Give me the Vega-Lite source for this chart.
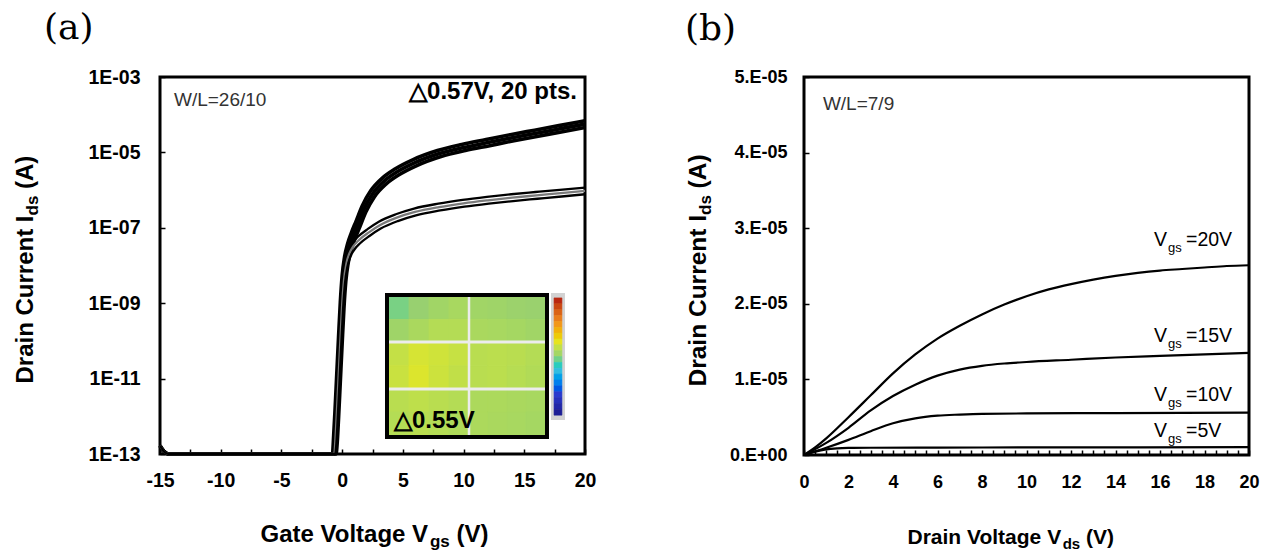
{
  "$schema": "https://vega.github.io/schema/vega-lite/v6.json",
  "background": "white",
  "padding": {"left": 11, "top": 8, "right": 5, "bottom": 2},
  "spacing": 85,
  "config": {
    "view": {"stroke": "black", "strokeWidth": 3},
    "axis": {"grid": false, "domain": false, "labelFont": "Liberation Sans", "labelFontWeight": "bold", "labelColor": "black", "tickColor": "black", "tickWidth": 1.5, "tickSize": -5, "titleFont": "Liberation Sans", "titleFontWeight": "bold", "titleColor": "black"}
  },
  "datasets": {
    "tr": [
      {"c":"u1","b":"u","v":-15,"i":1.66e-13},{"c":"u1","b":"u","v":-14.7,"i":1.2e-13},{"c":"u1","b":"u","v":-14.3,"i":1e-13},{"c":"u1","b":"u","v":-0.8,"i":1e-13},{"c":"u1","b":"u","v":-0.7,"i":3.02e-13},{"c":"u1","b":"u","v":-0.6,"i":1.2e-12},{"c":"u1","b":"u","v":-0.45,"i":1.2e-11},{"c":"u1","b":"u","v":-0.3,"i":1.2e-10},{"c":"u1","b":"u","v":-0.15,"i":1.07e-9},{"c":"u1","b":"u","v":0,"i":5.37e-9},{"c":"u1","b":"u","v":0.2,"i":1.7e-8},{"c":"u1","b":"u","v":0.45,"i":3.8e-8},{"c":"u1","b":"u","v":0.75,"i":7.24e-8},{"c":"u1","b":"u","v":1.15,"i":1.51e-7},{"c":"u1","b":"u","v":1.65,"i":3.8e-7},{"c":"u1","b":"u","v":2.35,"i":9.55e-7},{"c":"u1","b":"u","v":3.35,"i":2.14e-6},{"c":"u1","b":"u","v":4.35,"i":3.63e-6},{"c":"u1","b":"u","v":5.85,"i":6.46e-6},{"c":"u1","b":"u","v":7.85,"i":1.12e-5},{"c":"u1","b":"u","v":9.85,"i":1.62e-5},{"c":"u1","b":"u","v":11.85,"i":2.19e-5},{"c":"u1","b":"u","v":13.85,"i":2.95e-5},{"c":"u1","b":"u","v":15.85,"i":3.89e-5},{"c":"u1","b":"u","v":17.85,"i":5.13e-5},{"c":"u1","b":"u","v":20,"i":6.92e-5},
      {"c":"u2","b":"u","v":-15,"i":1.66e-13},{"c":"u2","b":"u","v":-14.7,"i":1.2e-13},{"c":"u2","b":"u","v":-14.3,"i":1e-13},{"c":"u2","b":"u","v":-0.65,"i":1e-13},{"c":"u2","b":"u","v":-0.55,"i":2.51e-13},{"c":"u2","b":"u","v":-0.45,"i":1e-12},{"c":"u2","b":"u","v":-0.3,"i":1e-11},{"c":"u2","b":"u","v":-0.15,"i":1e-10},{"c":"u2","b":"u","v":0,"i":8.91e-10},{"c":"u2","b":"u","v":0.15,"i":4.47e-9},{"c":"u2","b":"u","v":0.35,"i":1.41e-8},{"c":"u2","b":"u","v":0.6,"i":3.16e-8},{"c":"u2","b":"u","v":0.9,"i":6.03e-8},{"c":"u2","b":"u","v":1.3,"i":1.26e-7},{"c":"u2","b":"u","v":1.8,"i":3.16e-7},{"c":"u2","b":"u","v":2.5,"i":7.94e-7},{"c":"u2","b":"u","v":3.5,"i":1.78e-6},{"c":"u2","b":"u","v":4.5,"i":3.02e-6},{"c":"u2","b":"u","v":6,"i":5.37e-6},{"c":"u2","b":"u","v":8,"i":9.33e-6},{"c":"u2","b":"u","v":10,"i":1.35e-5},{"c":"u2","b":"u","v":12,"i":1.82e-5},{"c":"u2","b":"u","v":14,"i":2.45e-5},{"c":"u2","b":"u","v":16,"i":3.24e-5},{"c":"u2","b":"u","v":18,"i":4.27e-5},{"c":"u2","b":"u","v":20,"i":5.62e-5},
      {"c":"u3","b":"u","v":-15,"i":1.66e-13},{"c":"u3","b":"u","v":-14.7,"i":1.2e-13},{"c":"u3","b":"u","v":-14.3,"i":1e-13},{"c":"u3","b":"u","v":-0.5,"i":1e-13},{"c":"u3","b":"u","v":-0.4,"i":2.09e-13},{"c":"u3","b":"u","v":-0.3,"i":8.32e-13},{"c":"u3","b":"u","v":-0.15,"i":8.32e-12},{"c":"u3","b":"u","v":0,"i":8.32e-11},{"c":"u3","b":"u","v":0.15,"i":7.41e-10},{"c":"u3","b":"u","v":0.3,"i":3.72e-9},{"c":"u3","b":"u","v":0.5,"i":1.17e-8},{"c":"u3","b":"u","v":0.75,"i":2.63e-8},{"c":"u3","b":"u","v":1.05,"i":5.01e-8},{"c":"u3","b":"u","v":1.45,"i":1.05e-7},{"c":"u3","b":"u","v":1.95,"i":2.63e-7},{"c":"u3","b":"u","v":2.65,"i":6.61e-7},{"c":"u3","b":"u","v":3.65,"i":1.48e-6},{"c":"u3","b":"u","v":4.65,"i":2.51e-6},{"c":"u3","b":"u","v":6.15,"i":4.47e-6},{"c":"u3","b":"u","v":8.15,"i":7.76e-6},{"c":"u3","b":"u","v":10.15,"i":1.12e-5},{"c":"u3","b":"u","v":12.15,"i":1.51e-5},{"c":"u3","b":"u","v":14.15,"i":2.04e-5},{"c":"u3","b":"u","v":16.15,"i":2.69e-5},{"c":"u3","b":"u","v":18.15,"i":3.55e-5},{"c":"u3","b":"u","v":20,"i":4.57e-5},
      {"c":"l1","b":"l","v":-15,"i":1.66e-13},{"c":"l1","b":"l","v":-14.7,"i":1.2e-13},{"c":"l1","b":"l","v":-14.3,"i":1e-13},{"c":"l1","b":"l","v":-0.73,"i":1e-13},{"c":"l1","b":"l","v":-0.63,"i":3.09e-13},{"c":"l1","b":"l","v":-0.53,"i":1.23e-12},{"c":"l1","b":"l","v":-0.38,"i":1.23e-11},{"c":"l1","b":"l","v":-0.23,"i":1.23e-10},{"c":"l1","b":"l","v":-0.08,"i":1.1e-9},{"c":"l1","b":"l","v":0.07,"i":4.9e-9},{"c":"l1","b":"l","v":0.27,"i":1.38e-8},{"c":"l1","b":"l","v":0.52,"i":2.57e-8},{"c":"l1","b":"l","v":0.82,"i":3.89e-8},{"c":"l1","b":"l","v":1.32,"i":5.89e-8},{"c":"l1","b":"l","v":2.12,"i":9.33e-8},{"c":"l1","b":"l","v":3.02,"i":1.45e-7},{"c":"l1","b":"l","v":4.42,"i":2.29e-7},{"c":"l1","b":"l","v":5.92,"i":3.24e-7},{"c":"l1","b":"l","v":7.92,"i":4.37e-7},{"c":"l1","b":"l","v":9.92,"i":5.5e-7},{"c":"l1","b":"l","v":11.92,"i":6.61e-7},{"c":"l1","b":"l","v":13.92,"i":7.76e-7},{"c":"l1","b":"l","v":15.92,"i":8.91e-7},{"c":"l1","b":"l","v":17.92,"i":1.02e-6},{"c":"l1","b":"l","v":20,"i":1.17e-6},
      {"c":"l2","b":"l","v":-15,"i":1.66e-13},{"c":"l2","b":"l","v":-14.7,"i":1.2e-13},{"c":"l2","b":"l","v":-14.3,"i":1e-13},{"c":"l2","b":"l","v":-0.65,"i":1e-13},{"c":"l2","b":"l","v":-0.55,"i":2.51e-13},{"c":"l2","b":"l","v":-0.45,"i":1e-12},{"c":"l2","b":"l","v":-0.3,"i":1e-11},{"c":"l2","b":"l","v":-0.15,"i":1e-10},{"c":"l2","b":"l","v":0,"i":8.91e-10},{"c":"l2","b":"l","v":0.15,"i":3.98e-9},{"c":"l2","b":"l","v":0.35,"i":1.12e-8},{"c":"l2","b":"l","v":0.6,"i":2.09e-8},{"c":"l2","b":"l","v":0.9,"i":3.16e-8},{"c":"l2","b":"l","v":1.4,"i":4.79e-8},{"c":"l2","b":"l","v":2.2,"i":7.59e-8},{"c":"l2","b":"l","v":3.1,"i":1.17e-7},{"c":"l2","b":"l","v":4.5,"i":1.86e-7},{"c":"l2","b":"l","v":6,"i":2.63e-7},{"c":"l2","b":"l","v":8,"i":3.55e-7},{"c":"l2","b":"l","v":10,"i":4.47e-7},{"c":"l2","b":"l","v":12,"i":5.37e-7},{"c":"l2","b":"l","v":14,"i":6.31e-7},{"c":"l2","b":"l","v":16,"i":7.24e-7},{"c":"l2","b":"l","v":18,"i":8.32e-7},{"c":"l2","b":"l","v":20,"i":9.55e-7},
      {"c":"l3","b":"l","v":-15,"i":1.66e-13},{"c":"l3","b":"l","v":-14.7,"i":1.2e-13},{"c":"l3","b":"l","v":-14.3,"i":1e-13},{"c":"l3","b":"l","v":-0.57,"i":1e-13},{"c":"l3","b":"l","v":-0.47,"i":2.04e-13},{"c":"l3","b":"l","v":-0.37,"i":8.13e-13},{"c":"l3","b":"l","v":-0.22,"i":8.13e-12},{"c":"l3","b":"l","v":-0.07,"i":8.13e-11},{"c":"l3","b":"l","v":0.08,"i":7.24e-10},{"c":"l3","b":"l","v":0.23,"i":3.24e-9},{"c":"l3","b":"l","v":0.43,"i":9.12e-9},{"c":"l3","b":"l","v":0.68,"i":1.7e-8},{"c":"l3","b":"l","v":0.98,"i":2.57e-8},{"c":"l3","b":"l","v":1.48,"i":3.89e-8},{"c":"l3","b":"l","v":2.28,"i":6.17e-8},{"c":"l3","b":"l","v":3.18,"i":9.55e-8},{"c":"l3","b":"l","v":4.58,"i":1.51e-7},{"c":"l3","b":"l","v":6.08,"i":2.14e-7},{"c":"l3","b":"l","v":8.08,"i":2.88e-7},{"c":"l3","b":"l","v":10.08,"i":3.63e-7},{"c":"l3","b":"l","v":12.08,"i":4.37e-7},{"c":"l3","b":"l","v":14.08,"i":5.13e-7},{"c":"l3","b":"l","v":16.08,"i":5.89e-7},{"c":"l3","b":"l","v":18.08,"i":6.76e-7},{"c":"l3","b":"l","v":20,"i":7.76e-7}
    ],
    "out": [
      {"g":"20","x":0,"y":0},{"g":"20","x":0.5,"y":1e-6},{"g":"20","x":1,"y":2.2e-6},{"g":"20","x":2,"y":5e-6},{"g":"20","x":3,"y":7.9e-6},{"g":"20","x":4,"y":1.08e-5},{"g":"20","x":5,"y":1.33e-5},{"g":"20","x":6,"y":1.54e-5},{"g":"20","x":7,"y":1.71e-5},{"g":"20","x":8,"y":1.86e-5},{"g":"20","x":9,"y":1.99e-5},{"g":"20","x":10,"y":2.1e-5},{"g":"20","x":11,"y":2.19e-5},{"g":"20","x":12,"y":2.26e-5},{"g":"20","x":13,"y":2.32e-5},{"g":"20","x":14,"y":2.37e-5},{"g":"20","x":15,"y":2.41e-5},{"g":"20","x":16,"y":2.44e-5},{"g":"20","x":17,"y":2.46e-5},{"g":"20","x":18,"y":2.48e-5},{"g":"20","x":19,"y":2.5e-5},{"g":"20","x":20,"y":2.51e-5},
      {"g":"15","x":0,"y":0},{"g":"15","x":1,"y":1.6e-6},{"g":"15","x":2,"y":3.6e-6},{"g":"15","x":3,"y":5.9e-6},{"g":"15","x":4,"y":7.8e-6},{"g":"15","x":5,"y":9.3e-6},{"g":"15","x":6,"y":1.05e-5},{"g":"15","x":7,"y":1.13e-5},{"g":"15","x":8,"y":1.18e-5},{"g":"15","x":9,"y":1.21e-5},{"g":"15","x":10,"y":1.23e-5},{"g":"15","x":12,"y":1.26e-5},{"g":"15","x":14,"y":1.29e-5},{"g":"15","x":16,"y":1.31e-5},{"g":"15","x":18,"y":1.33e-5},{"g":"15","x":20,"y":1.35e-5},
      {"g":"10","x":0,"y":0},{"g":"10","x":1,"y":9.5e-7},{"g":"10","x":2,"y":2e-6},{"g":"10","x":3,"y":3.15e-6},{"g":"10","x":4,"y":4.2e-6},{"g":"10","x":5,"y":4.85e-6},{"g":"10","x":6,"y":5.2e-6},{"g":"10","x":7,"y":5.35e-6},{"g":"10","x":8,"y":5.45e-6},{"g":"10","x":10,"y":5.5e-6},{"g":"10","x":14,"y":5.55e-6},{"g":"10","x":20,"y":5.6e-6},
      {"g":"5","x":0,"y":0},{"g":"5","x":0.5,"y":4.5e-7},{"g":"5","x":1,"y":7.5e-7},{"g":"5","x":1.5,"y":8.8e-7},{"g":"5","x":2,"y":9.3e-7},{"g":"5","x":3,"y":9.6e-7},{"g":"5","x":6,"y":9.8e-7},{"g":"5","x":10,"y":1e-6},{"g":"5","x":20,"y":1.03e-6}
    ],
    "lab": [
      {"g":"20","r":"=20V","x":15.73,"y":2.77e-5},
      {"g":"15","r":"=15V","x":15.73,"y":1.5e-5},
      {"g":"10","r":"=10V","x":15.73,"y":7.1e-6},
      {"g":"5","r":"=5V","x":15.73,"y":2.4e-6}
    ]
  },
  "hconcat": [
    {
      "width": 425,
      "height": 377,
      "title": {"text": "(a)", "anchor": "start", "frame": "bounds", "font": "DejaVu Serif", "fontSize": 36, "fontWeight": "normal", "color": "black", "dx": 31, "offset": 20},
      "resolve": {"axis": {"x": "independent", "y": "independent"}},
      "layer": [
        {
          "data": {"values": [
            {"x":3.859,"x2":5.506,"y":1.459e-9,"y2":3.7e-10,"d":-0.3},{"x":5.506,"x2":7.153,"y":1.459e-9,"y2":3.7e-10,"d":-0.25},{"x":7.153,"x2":8.8,"y":1.459e-9,"y2":3.7e-10,"d":-0.2},{"x":8.8,"x2":10.447,"y":1.459e-9,"y2":3.7e-10,"d":-0.17},{"x":10.447,"x2":12.01,"y":1.459e-9,"y2":3.7e-10,"d":-0.2},{"x":12.01,"x2":13.576,"y":1.459e-9,"y2":3.7e-10,"d":-0.21},{"x":13.576,"x2":15.14,"y":1.459e-9,"y2":3.7e-10,"d":-0.23},{"x":15.14,"x2":16.705,"y":1.459e-9,"y2":3.7e-10,"d":-0.24},
            {"x":3.859,"x2":5.506,"y":3.7e-10,"y2":9.35e-11,"d":-0.21},{"x":5.506,"x2":7.153,"y":3.7e-10,"y2":9.35e-11,"d":-0.16},{"x":7.153,"x2":8.8,"y":3.7e-10,"y2":9.35e-11,"d":-0.12},{"x":8.8,"x2":10.447,"y":3.7e-10,"y2":9.35e-11,"d":-0.12},{"x":10.447,"x2":12.01,"y":3.7e-10,"y2":9.35e-11,"d":-0.16},{"x":12.01,"x2":13.576,"y":3.7e-10,"y2":9.35e-11,"d":-0.17},{"x":13.576,"x2":15.14,"y":3.7e-10,"y2":9.35e-11,"d":-0.18},{"x":15.14,"x2":16.705,"y":3.7e-10,"y2":9.35e-11,"d":-0.2},
            {"x":3.859,"x2":5.506,"y":9.35e-11,"y2":2.22e-11,"d":-0.06},{"x":5.506,"x2":7.153,"y":9.35e-11,"y2":2.22e-11,"d":0.0},{"x":7.153,"x2":8.8,"y":9.35e-11,"y2":2.22e-11,"d":-0.02},{"x":8.8,"x2":10.447,"y":9.35e-11,"y2":2.22e-11,"d":-0.05},{"x":10.447,"x2":12.01,"y":9.35e-11,"y2":2.22e-11,"d":-0.1},{"x":12.01,"x2":13.576,"y":9.35e-11,"y2":2.22e-11,"d":-0.09},{"x":13.576,"x2":15.14,"y":9.35e-11,"y2":2.22e-11,"d":-0.1},{"x":15.14,"x2":16.705,"y":9.35e-11,"y2":2.22e-11,"d":-0.12},
            {"x":3.859,"x2":5.506,"y":2.22e-11,"y2":5.3e-12,"d":-0.04},{"x":5.506,"x2":7.153,"y":2.22e-11,"y2":5.3e-12,"d":0.02},{"x":7.153,"x2":8.8,"y":2.22e-11,"y2":5.3e-12,"d":-0.03},{"x":8.8,"x2":10.447,"y":2.22e-11,"y2":5.3e-12,"d":-0.07},{"x":10.447,"x2":12.01,"y":2.22e-11,"y2":5.3e-12,"d":-0.1},{"x":12.01,"x2":13.576,"y":2.22e-11,"y2":5.3e-12,"d":-0.09},{"x":13.576,"x2":15.14,"y":2.22e-11,"y2":5.3e-12,"d":-0.11},{"x":15.14,"x2":16.705,"y":2.22e-11,"y2":5.3e-12,"d":-0.13},
            {"x":3.859,"x2":5.506,"y":5.3e-12,"y2":1.3e-12,"d":-0.1},{"x":5.506,"x2":7.153,"y":5.3e-12,"y2":1.3e-12,"d":-0.08},{"x":7.153,"x2":8.8,"y":5.3e-12,"y2":1.3e-12,"d":-0.1},{"x":8.8,"x2":10.447,"y":5.3e-12,"y2":1.3e-12,"d":-0.12},{"x":10.447,"x2":12.01,"y":5.3e-12,"y2":1.3e-12,"d":-0.15},{"x":12.01,"x2":13.576,"y":5.3e-12,"y2":1.3e-12,"d":-0.15},{"x":13.576,"x2":15.14,"y":5.3e-12,"y2":1.3e-12,"d":-0.16},{"x":15.14,"x2":16.705,"y":5.3e-12,"y2":1.3e-12,"d":-0.17},
            {"x":3.859,"x2":5.506,"y":1.3e-12,"y2":3.19e-13,"d":-0.12},{"x":5.506,"x2":7.153,"y":1.3e-12,"y2":3.19e-13,"d":-0.1},{"x":7.153,"x2":8.8,"y":1.3e-12,"y2":3.19e-13,"d":-0.12},{"x":8.8,"x2":10.447,"y":1.3e-12,"y2":3.19e-13,"d":-0.14},{"x":10.447,"x2":12.01,"y":1.3e-12,"y2":3.19e-13,"d":-0.15},{"x":12.01,"x2":13.576,"y":1.3e-12,"y2":3.19e-13,"d":-0.16},{"x":13.576,"x2":15.14,"y":1.3e-12,"y2":3.19e-13,"d":-0.17},{"x":15.14,"x2":16.705,"y":1.3e-12,"y2":3.19e-13,"d":-0.18}
          ]},
          "mark": {"type": "rect", "strokeWidth": 0.8},
          "encoding": {
            "x": {"field": "x", "type": "quantitative", "scale": {"domain": [-15, 20], "nice": false, "zero": false},
              "axis": {"orient": "bottom", "values": [-15,-12.5,-10,-7.5,-5,-2.5,0,2.5,5,7.5,10,12.5,15,17.5,20], "labelExpr": "datum.value % 5 === 0 ? '' + datum.value : ''", "labelFontSize": 19.5, "labelPadding": 22, "labelOverlap": false, "labelFlush": false, "title": "Gate Voltage V", "titleFontSize": 24, "titleX": 100, "titleY": 87, "titleAlign": "left", "titleBaseline": "alphabetic", "titleAngle": 0}},
            "x2": {"field": "x2"},
            "y": {"field": "y", "type": "quantitative", "scale": {"type": "log", "domain": [1e-13, 0.001], "nice": false},
              "axis": {"orient": "left", "values": [1e-13, 1e-11, 1e-9, 1e-7, 1e-5, 0.001], "labelExpr": "'1E-' + (round(-log(datum.value)/LN10) < 10 ? '0' : '') + round(-log(datum.value)/LN10)", "labelFontSize": 19.5, "labelPadding": 25, "labelOverlap": false, "labelFlush": false, "title": "Drain Current I", "titleFontSize": 24, "titleX": -128, "titleY": 306, "titleAngle": 270, "titleAlign": "left", "titleBaseline": "alphabetic"}},
            "y2": {"field": "y2"},
            "fill": {"field": "d", "type": "quantitative", "scale": {"type": "linear", "domain": [-1.5, -1.0, -0.55, -0.25, 0.05, 0.5, 1.0], "range": ["#1a1a8c", "#2a3fd8", "#3cc0e0", "#98d070", "#e6e620", "#f08a20", "#b01010"]}, "legend": null},
            "stroke": {"field": "d", "type": "quantitative", "scale": {"type": "linear", "domain": [-1.5, -1.0, -0.55, -0.25, 0.05, 0.5, 1.0], "range": ["#1a1a8c", "#2a3fd8", "#3cc0e0", "#98d070", "#e6e620", "#f08a20", "#b01010"]}, "legend": null}
          }
        },
        {
          "data": {"values": [{"x": 3.859, "x2": 16.705, "y": 9.35e-11}, {"x": 3.859, "x2": 16.705, "y": 5.3e-12}]},
          "mark": {"type": "rule", "color": "#ececec", "strokeWidth": 3},
          "encoding": {
            "x": {"field": "x", "type": "quantitative", "scale": {"domain": [-15, 20], "nice": false, "zero": false}, "axis": null},
            "x2": {"field": "x2"},
            "y": {"field": "y", "type": "quantitative", "scale": {"type": "log", "domain": [1e-13, 0.001], "nice": false}, "axis": null}
          }
        },
        {
          "data": {"values": [{"x": 10.447, "y": 1.459e-9, "y2": 3.19e-13}]},
          "mark": {"type": "rule", "color": "#ececec", "strokeWidth": 2.5},
          "encoding": {
            "x": {"field": "x", "type": "quantitative", "scale": {"domain": [-15, 20], "nice": false, "zero": false}, "axis": null},
            "y": {"field": "y", "type": "quantitative", "scale": {"type": "log", "domain": [1e-13, 0.001], "nice": false}, "axis": null},
            "y2": {"field": "y2"}
          }
        },
        {
          "data": {"values": [{"x": 3.694, "x2": 16.87, "y": 1.648e-9, "y2": 2.825e-13}]},
          "mark": {"type": "rect", "filled": false, "stroke": "black", "strokeWidth": 4},
          "encoding": {
            "x": {"field": "x", "type": "quantitative", "scale": {"domain": [-15, 20], "nice": false, "zero": false}, "axis": null},
            "x2": {"field": "x2"},
            "y": {"field": "y", "type": "quantitative", "scale": {"type": "log", "domain": [1e-13, 0.001], "nice": false}, "axis": null},
            "y2": {"field": "y2"}
          }
        },
        {
          "data": {"values": [{"x": 17.2, "x2": 18.35, "y": 1.862e-9, "y2": 7.94e-13}]},
          "mark": {"type": "rect", "fill": "#d2d2d2"},
          "encoding": {
            "x": {"field": "x", "type": "quantitative", "scale": {"domain": [-15, 20], "nice": false, "zero": false}, "axis": null},
            "x2": {"field": "x2"},
            "y": {"field": "y", "type": "quantitative", "scale": {"type": "log", "domain": [1e-13, 0.001], "nice": false}, "axis": null},
            "y2": {"field": "y2"}
          }
        },
        {
          "data": {"values": [
            {"y":1.38e-9,"y2":9.649e-10,"d":0.9375},{"y":9.649e-10,"y2":6.745e-10,"d":0.8125},{"y":6.745e-10,"y2":4.716e-10,"d":0.6875},{"y":4.716e-10,"y2":3.296e-10,"d":0.5625},{"y":3.296e-10,"y2":2.304e-10,"d":0.4375},{"y":2.304e-10,"y2":1.611e-10,"d":0.3125},{"y":1.611e-10,"y2":1.126e-10,"d":0.1875},{"y":1.126e-10,"y2":7.87e-11,"d":0.0625},{"y":7.87e-11,"y2":5.5e-11,"d":-0.0625},{"y":5.5e-11,"y2":3.846e-11,"d":-0.1875},{"y":3.846e-11,"y2":2.689e-11,"d":-0.3125},{"y":2.689e-11,"y2":1.879e-11,"d":-0.4375},{"y":1.879e-11,"y2":1.314e-11,"d":-0.5625},{"y":1.314e-11,"y2":9.183e-12,"d":-0.6875},{"y":9.183e-12,"y2":6.42e-12,"d":-0.8125},{"y":6.42e-12,"y2":4.487e-12,"d":-0.9375},{"y":4.487e-12,"y2":3.137e-12,"d":-1.0625},{"y":3.137e-12,"y2":2.193e-12,"d":-1.1875},{"y":2.193e-12,"y2":1.533e-12,"d":-1.3125},{"y":1.533e-12,"y2":1.072e-12,"d":-1.4375}
          ]},
          "mark": {"type": "rect", "strokeWidth": 0.6},
          "encoding": {
            "x": {"datum": 17.45, "type": "quantitative", "scale": {"domain": [-15, 20], "nice": false, "zero": false}, "axis": null},
            "x2": {"datum": 18.1},
            "y": {"field": "y", "type": "quantitative", "scale": {"type": "log", "domain": [1e-13, 0.001], "nice": false}, "axis": null},
            "y2": {"field": "y2"},
            "fill": {"field": "d", "type": "quantitative", "scale": {"type": "linear", "domain": [-1.5, -1.0, -0.55, -0.25, 0.05, 0.5, 1.0], "range": ["#1a1a8c", "#2a3fd8", "#3cc0e0", "#98d070", "#e6e620", "#f08a20", "#b01010"]}, "legend": null},
            "stroke": {"field": "d", "type": "quantitative", "scale": {"type": "linear", "domain": [-1.5, -1.0, -0.55, -0.25, 0.05, 0.5, 1.0], "range": ["#1a1a8c", "#2a3fd8", "#3cc0e0", "#98d070", "#e6e620", "#f08a20", "#b01010"]}, "legend": null}
          }
        },
        {
          "data": {"name": "tr"},
          "transform": [{"filter": "datum.b == 'u'"}],
          "mark": {"type": "line", "interpolate": "monotone", "color": "black", "strokeWidth": 3.6},
          "encoding": {
            "x": {"field": "v", "type": "quantitative", "scale": {"domain": [-15, 20], "nice": false, "zero": false},
              "axis": {"orient": "bottom", "labels": false, "ticks": false, "domain": false, "title": "gs", "titleFontSize": 17, "titleX": 269.4, "titleY": 92, "titleAlign": "left", "titleBaseline": "alphabetic", "titleAngle": 0}},
            "y": {"field": "i", "type": "quantitative", "scale": {"type": "log", "domain": [1e-13, 0.001], "nice": false},
              "axis": {"orient": "left", "labels": false, "ticks": false, "domain": false, "title": "ds", "titleFontSize": 17, "titleX": -123, "titleY": 138, "titleAngle": 270, "titleAlign": "left", "titleBaseline": "alphabetic"}},
            "detail": {"field": "c"}
          }
        },
        {
          "data": {"name": "tr"},
          "transform": [{"filter": "datum.b == 'l'"}],
          "mark": {"type": "line", "interpolate": "monotone", "strokeWidth": 2.3},
          "encoding": {
            "x": {"field": "v", "type": "quantitative", "scale": {"domain": [-15, 20], "nice": false, "zero": false},
              "axis": {"orient": "bottom", "labels": false, "ticks": false, "domain": false, "title": "(V)", "titleFontSize": 24, "titleX": 295.9, "titleY": 87, "titleAlign": "left", "titleBaseline": "alphabetic", "titleAngle": 0}},
            "y": {"field": "i", "type": "quantitative", "scale": {"type": "log", "domain": [1e-13, 0.001], "nice": false},
              "axis": {"orient": "left", "labels": false, "ticks": false, "domain": false, "title": "(A)", "titleFontSize": 24, "titleX": -128, "titleY": 111.5, "titleAngle": 270, "titleAlign": "left", "titleBaseline": "alphabetic"}},
            "color": {"field": "c", "type": "nominal", "scale": {"domain": ["l1", "l2", "l3"], "range": ["black", "#7a7a7a", "black"]}, "legend": null}
          }
        },
        {
          "data": {"values": [{"t": "W/L=26/10", "x": -13.85, "y": 0.000245}]},
          "mark": {"type": "text", "align": "left", "baseline": "middle", "font": "Liberation Sans", "fontSize": 19, "fill": "#333333"},
          "encoding": {
            "x": {"field": "x", "type": "quantitative", "scale": {"domain": [-15, 20], "nice": false, "zero": false}, "axis": null},
            "y": {"field": "y", "type": "quantitative", "scale": {"type": "log", "domain": [1e-13, 0.001], "nice": false}, "axis": null},
            "text": {"field": "t"}
          }
        },
        {
          "data": {"values": [{"t": "△0.57V, 20 pts.", "x": 19.34, "y": 0.000398}]},
          "mark": {"type": "text", "align": "right", "baseline": "middle", "font": "Liberation Sans", "fontWeight": "bold", "fontSize": 24, "fill": "black"},
          "encoding": {
            "x": {"field": "x", "type": "quantitative", "scale": {"domain": [-15, 20], "nice": false, "zero": false}, "axis": null},
            "y": {"field": "y", "type": "quantitative", "scale": {"type": "log", "domain": [1e-13, 0.001], "nice": false}, "axis": null},
            "text": {"field": "t"}
          }
        },
        {
          "data": {"values": [{"t": "△0.55V", "x": 4.27, "y": 7.6e-13}]},
          "mark": {"type": "text", "align": "left", "baseline": "middle", "font": "Liberation Sans", "fontWeight": "bold", "fontSize": 24, "fill": "black"},
          "encoding": {
            "x": {"field": "x", "type": "quantitative", "scale": {"domain": [-15, 20], "nice": false, "zero": false}, "axis": null},
            "y": {"field": "y", "type": "quantitative", "scale": {"type": "log", "domain": [1e-13, 0.001], "nice": false}, "axis": null},
            "text": {"field": "t"}
          }
        }
      ]
    },
    {
      "width": 445,
      "height": 378,
      "title": {"text": "(b)", "anchor": "start", "frame": "bounds", "font": "DejaVu Serif", "fontSize": 36, "fontWeight": "normal", "color": "black", "dx": 0, "offset": 20},
      "resolve": {"axis": {"x": "independent", "y": "independent"}},
      "layer": [
        {
          "data": {"name": "out"},
          "mark": {"type": "line", "interpolate": "monotone", "color": "black", "strokeWidth": 2.2},
          "encoding": {
            "x": {"field": "x", "type": "quantitative", "scale": {"domain": [0, 20], "nice": false, "zero": false},
              "axis": {"orient": "bottom", "values": [0,0.5,1,1.5,2,2.5,3,3.5,4,4.5,5,5.5,6,6.5,7,7.5,8,8.5,9,9.5,10,10.5,11,11.5,12,12.5,13,13.5,14,14.5,15,15.5,16,16.5,17,17.5,18,18.5,19,19.5,20], "labelExpr": "datum.value % 2 === 0 ? '' + datum.value : ''", "labelFontSize": 18, "labelPadding": 23, "labelOverlap": false, "labelFlush": false, "title": "Drain Voltage V", "titleFontSize": 21, "titleX": 103, "titleY": 88, "titleAlign": "left", "titleBaseline": "alphabetic", "titleAngle": 0}},
            "y": {"field": "y", "type": "quantitative", "scale": {"domain": [0, 0.00005], "nice": false},
              "axis": {"orient": "left", "values": [0, 0.00001, 0.00002, 0.00003, 0.00004, 0.00005], "labelExpr": "datum.value == 0 ? '0.E+00' : round(datum.value*100000) + '.E-05'", "labelFontSize": 18, "labelPadding": 22, "labelOverlap": false, "labelFlush": false, "title": "Drain Current I", "titleFontSize": 24.5, "titleX": -99, "titleY": 309, "titleAngle": 270, "titleAlign": "left", "titleBaseline": "alphabetic"}},
            "detail": {"field": "g"}
          }
        },
        {
          "data": {"name": "lab"},
          "mark": {"type": "text", "text": "V", "align": "left", "baseline": "alphabetic", "font": "Liberation Sans", "fontSize": 19.5, "fill": "black"},
          "encoding": {
            "x": {"field": "x", "type": "quantitative", "scale": {"domain": [0, 20], "nice": false, "zero": false},
              "axis": {"orient": "bottom", "labels": false, "ticks": false, "domain": false, "title": "ds", "titleFontSize": 15, "titleX": 258.2, "titleY": 93, "titleAlign": "left", "titleBaseline": "alphabetic", "titleAngle": 0}},
            "y": {"field": "y", "type": "quantitative", "scale": {"domain": [0, 0.00005], "nice": false},
              "axis": {"orient": "left", "labels": false, "ticks": false, "domain": false, "title": "ds", "titleFontSize": 17, "titleX": -94, "titleY": 137.5, "titleAngle": 270, "titleAlign": "left", "titleBaseline": "alphabetic"}}
          }
        },
        {
          "data": {"name": "lab"},
          "mark": {"type": "text", "text": "gs", "align": "left", "baseline": "alphabetic", "font": "Liberation Sans", "fontSize": 13, "dx": 14, "dy": 6, "fill": "black"},
          "encoding": {
            "x": {"field": "x", "type": "quantitative", "scale": {"domain": [0, 20], "nice": false, "zero": false},
              "axis": {"orient": "bottom", "labels": false, "ticks": false, "domain": false, "title": "(V)", "titleFontSize": 21, "titleX": 281.5, "titleY": 88, "titleAlign": "left", "titleBaseline": "alphabetic", "titleAngle": 0}},
            "y": {"field": "y", "type": "quantitative", "scale": {"domain": [0, 0.00005], "nice": false},
              "axis": {"orient": "left", "labels": false, "ticks": false, "domain": false, "title": "(A)", "titleFontSize": 24.5, "titleX": -99, "titleY": 110.9, "titleAngle": 270, "titleAlign": "left", "titleBaseline": "alphabetic"}}
          }
        },
        {
          "data": {"name": "lab"},
          "mark": {"type": "text", "align": "left", "baseline": "alphabetic", "font": "Liberation Sans", "fontSize": 19.5, "dx": 32, "fill": "black"},
          "encoding": {
            "x": {"field": "x", "type": "quantitative", "scale": {"domain": [0, 20], "nice": false, "zero": false}, "axis": null},
            "y": {"field": "y", "type": "quantitative", "scale": {"domain": [0, 0.00005], "nice": false}, "axis": null},
            "text": {"field": "r"}
          }
        },
        {
          "data": {"values": [{"t": "W/L=7/9", "x": 0.85, "y": 0.0000464}]},
          "mark": {"type": "text", "align": "left", "baseline": "middle", "font": "Liberation Sans", "fontSize": 19, "fill": "#333333"},
          "encoding": {
            "x": {"field": "x", "type": "quantitative", "scale": {"domain": [0, 20], "nice": false, "zero": false}, "axis": null},
            "y": {"field": "y", "type": "quantitative", "scale": {"domain": [0, 0.00005], "nice": false}, "axis": null},
            "text": {"field": "t"}
          }
        }
      ]
    }
  ]
}
